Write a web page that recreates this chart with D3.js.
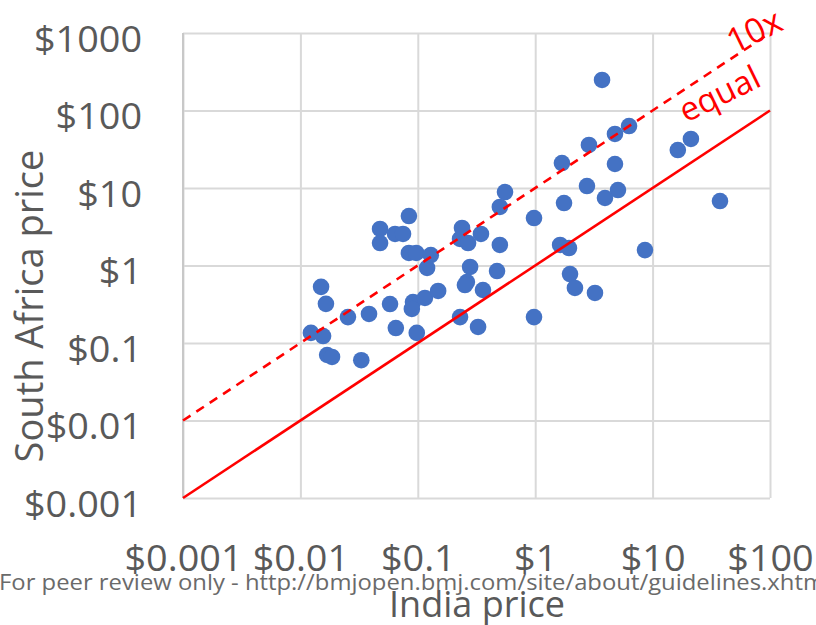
<!DOCTYPE html>
<html>
<head>
<meta charset="utf-8">
<script src="https://cdn.jsdelivr.net/npm/d3@7"></script>
<style>
  html, body { margin: 0; padding: 0; background: #fff; }
  svg { display: block; }
  text { font-family: "Open Sans", "DejaVu Sans", sans-serif; }
</style>
</head>
<body>
<script>
// Medicine prices: India vs South Africa (USD, log scales)
const indiaPrice = [
  0.015, 0.0165, 0.0123, 0.0156, 0.0169, 0.0186, 0.033, 0.0254, 0.0384, 0.058,
  0.065, 0.098, 0.091, 0.089, 0.115, 0.149, 0.120, 0.084, 0.097, 0.129,
  0.084, 0.0477, 0.064, 0.0748, 0.0477, 0.238, 0.229, 0.268, 0.345, 0.50,
  0.279, 0.473, 0.262, 0.252, 0.359, 0.229, 0.326, 0.553, 0.50, 0.977,
  1.76, 2.76, 1.63, 1.94, 1.98, 2.18, 3.23, 0.977, 3.71, 6.30,
  4.78, 2.87, 1.69, 4.78, 21.2, 16.4, 5.07, 3.93, 37.5, 8.61
];
const southAfricaPrice = [
  0.53, 0.32, 0.135, 0.123, 0.070, 0.066, 0.060, 0.216, 0.237, 0.318,
  0.156, 0.135, 0.338, 0.275, 0.381, 0.469, 0.93, 1.45, 1.45, 1.36,
  4.35, 2.96, 2.55, 2.55, 1.95, 3.05, 2.20, 1.95, 2.55, 1.84,
  0.957, 0.849, 0.612, 0.56, 0.483, 0.216, 0.161, 8.87, 5.69, 4.10,
  6.40, 10.6, 1.84, 1.68, 0.776, 0.513, 0.442, 0.216, 248, 63,
  49.8, 35.9, 21.0, 20.4, 42.9, 30.9, 9.42, 7.43, 6.79, 1.58
];
const xTicks = [0.001, 0.01, 0.1, 1, 10, 100];
const yTicks = [0.001, 0.01, 0.1, 1, 10, 100, 1000];
const xTickLabels = ["$0.001", "$0.01", "$0.1", "$1", "$10", "$100"];
const yTickLabels = ["$0.001", "$0.01", "$0.1", "$1", "$10", "$100", "$1000"];
// Reference lines: South Africa price = factor x India price
const refFactors = [1, 10];
const refLabels = ["equal", "10x"];

const W = 816, H = 625;
const plot = { left: 183, right: 770, top: 33, bottom: 498 };

const svg = d3.select("body").append("svg").attr("width", W).attr("height", H);

const x = d3.scaleLog().domain([0.001, 100]).range([plot.left, plot.right]);
const y = d3.scaleLog().domain([0.001, 1000]).range([plot.bottom, plot.top]);

const gridColor = "#d9d9d9";
const textColor = "#595959";

// Watermark line along the bottom
svg.append("text")
  .attr("x", -1).attr("y", 590)
  .attr("font-size", 21)
  .attr("fill", "#6a6a6a")
  .attr("textLength", 832)
  .attr("lengthAdjust", "spacingAndGlyphs")
  .text("For peer review only - http://bmjopen.bmj.com/site/about/guidelines.xhtml");

// X axis with vertical gridlines
const xAxis = svg.append("g")
  .attr("transform", `translate(0,${plot.bottom})`)
  .call(d3.axisBottom(x).tickValues(xTicks)
    .tickFormat((d, i) => xTickLabels[i])
    .tickSize(-(plot.bottom - plot.top)).tickPadding(47));
xAxis.select(".domain").remove();
xAxis.selectAll(".tick line").attr("stroke", gridColor).attr("stroke-width", 2);
xAxis.selectAll(".tick text").attr("font-size", 36).attr("fill", textColor);

// Y axis with horizontal gridlines
const yAxis = svg.append("g")
  .attr("transform", `translate(${plot.left},0)`)
  .call(d3.axisLeft(y).tickValues(yTicks)
    .tickFormat((d, i) => yTickLabels[i])
    .tickSize(-(plot.right - plot.left)).tickPadding(41));
yAxis.select(".domain").remove();
yAxis.selectAll(".tick line").attr("stroke", gridColor).attr("stroke-width", 2);
yAxis.selectAll(".tick text").attr("font-size", 36).attr("fill", textColor).attr("dy", "0.5em");

// Widen tick glyphs slightly for a fuller face
svg.selectAll(".tick text").each(function () {
  const len = this.getComputedTextLength();
  d3.select(this).attr("textLength", len * 1.05).attr("lengthAdjust", "spacingAndGlyphs");
});

// Left axis line a touch darker
svg.append("line")
  .attr("x1", plot.left).attr("x2", plot.left)
  .attr("y1", plot.top).attr("y2", plot.bottom)
  .attr("stroke", "#c8c8c8").attr("stroke-width", 2);

// Scatter points
const pts = indiaPrice.map((v, i) => ({ x: v, y: southAfricaPrice[i] }));
svg.append("g").selectAll("circle").data(pts).join("circle")
  .attr("cx", d => x(d.x)).attr("cy", d => y(d.y))
  .attr("r", 8.3).attr("fill", "#4472c4");

// Reference lines over the points
const lineGen = d3.line().x(d => x(d[0])).y(d => y(d[1]));
refFactors.forEach((f, i) => {
  svg.append("path")
    .datum(x.domain().map(v => [v, v * f]))
    .attr("d", lineGen)
    .attr("fill", "none")
    .attr("stroke", "#ff0000")
    .attr("stroke-width", 2.6)
    .attr("stroke-dasharray", f === 1 ? null : "9,7");
});

// Line labels, tilted upward near the top-right end of each line
const labelAngle = -26;
const labelStyle = {
  "equal": { pos: [686, 123], size: 33 },
  "10x": { pos: [734, 54], size: 34 }
};
refLabels.forEach(lbl => {
  const s = labelStyle[lbl];
  svg.append("text")
    .attr("transform", `translate(${s.pos[0]},${s.pos[1]}) rotate(${labelAngle})`)
    .attr("font-size", s.size)
    .attr("fill", "#ff0000")
    .text(lbl);
});

// Axis titles
svg.append("text")
  .attr("transform", `translate(43,306) rotate(-90)`)
  .attr("text-anchor", "middle")
  .attr("font-size", 38)
  .attr("fill", textColor)
  .text("South Africa price");

svg.append("text")
  .attr("x", 477).attr("y", 617)
  .attr("text-anchor", "middle")
  .attr("font-size", 36)
  .attr("fill", textColor)
  .text("India price");
</script>
</body>
</html>
